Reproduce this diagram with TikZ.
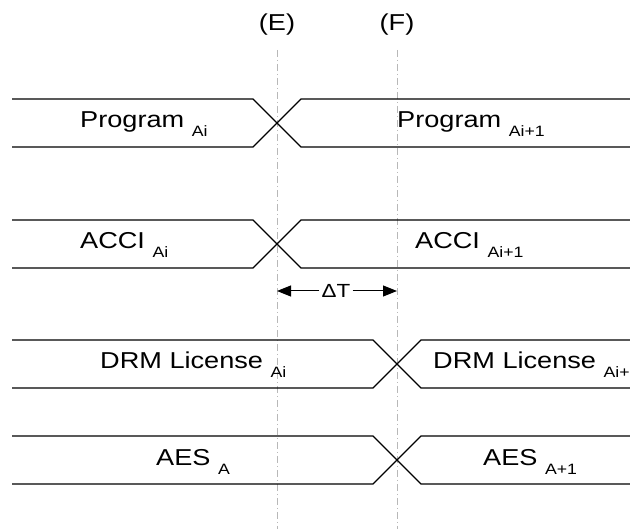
\documentclass[tikz,border=0pt]{standalone}
\usepackage{fontspec}
\setmainfont[FakeStretch=1.18]{Liberation Sans}
\usepackage{tikz}
\usetikzlibrary{arrows.meta}
\newcommand{\sig}[2]{#1 \raisebox{-8.5pt}{\fontsize{15}{16}\selectfont #2}}

\begin{document}
\begin{tikzpicture}[x=1pt, y=-1pt,
        bus/.style = {line width=1.4pt},
        guide/.style = {draw=black!28, line width=0.9pt, dash pattern=on 7pt off 3pt on 1pt off 3pt},
        lbl/.style = {anchor=base west, inner sep=0pt, font=\fontsize{23}{26}\selectfont},
        tag/.style = {anchor=base, inner sep=0pt, font=\fontsize{23}{26}\selectfont}]
            \useasboundingbox (0,0) rectangle (630,529);
            \clip (0,0) rectangle (630,529);

            % time marks
            \node[tag] (E) at (277,31) {(E)};
            \node[tag] (F) at (397,31) {(F)};
            \coordinate (Etop) at (277,50);
            \coordinate (Ebot) at (277,529);
            \coordinate (Ftop) at (397,50);
            \coordinate (Fbot) at (397,529);
            \draw[guide] (Etop) -- (Ebot);
            \draw[guide] (Ftop) -- (Fbot);

            % busses
            \draw[bus] (12,99) -- (253,99) -- (301,147) -- (630,147);
            \draw[bus] (12,147) -- (253,147) -- (301,99) -- (630,99);

            \draw[bus] (12,220) -- (253,220) -- (301,268) -- (630,268);
            \draw[bus] (12,268) -- (253,268) -- (301,220) -- (630,220);

            \draw[bus] (12,340) -- (373,340) -- (421,388) -- (630,388);
            \draw[bus] (12,388) -- (373,388) -- (421,340) -- (630,340);

            \draw[bus] (12,436) -- (373,436) -- (421,484) -- (630,484);
            \draw[bus] (12,484) -- (373,484) -- (421,436) -- (630,436);

            \node[lbl] (progA) at (80,128) {\sig{Program}{Ai}};
            \node[lbl] (progB) at (397,128) {\sig{Program}{Ai+1}};
            \node[lbl] (acciA) at (80,249) {\sig{ACCI}{Ai}};
            \node[lbl] (acciB) at (415,249) {\sig{ACCI}{Ai+1}};
            \node[lbl] (drmA) at (100,369) {\sig{DRM License}{Ai}};
            \node[lbl] (drmB) at (433,369) {\sig{DRM License}{Ai+1}};
            \node[lbl] (aesA) at (156,466) {\sig{AES}{A}};
            \node[lbl] (aesB) at (483,466) {\sig{AES}{A+1}};

            % delta T
            \node[font=\fontsize{19}{21}\selectfont, inner sep=2pt] (dT) at (336,291) {ΔT};
            \coordinate (dTl) at (277,291);
            \coordinate (dTr) at (397,291);
            \path[-{Triangle[length=14pt,width=11pt]}, line width=1pt] (dT) edge (dTl);
            \path[-{Triangle[length=14pt,width=11pt]}, line width=1pt] (dT) edge (dTr);
        \end{tikzpicture}
\end{document}
